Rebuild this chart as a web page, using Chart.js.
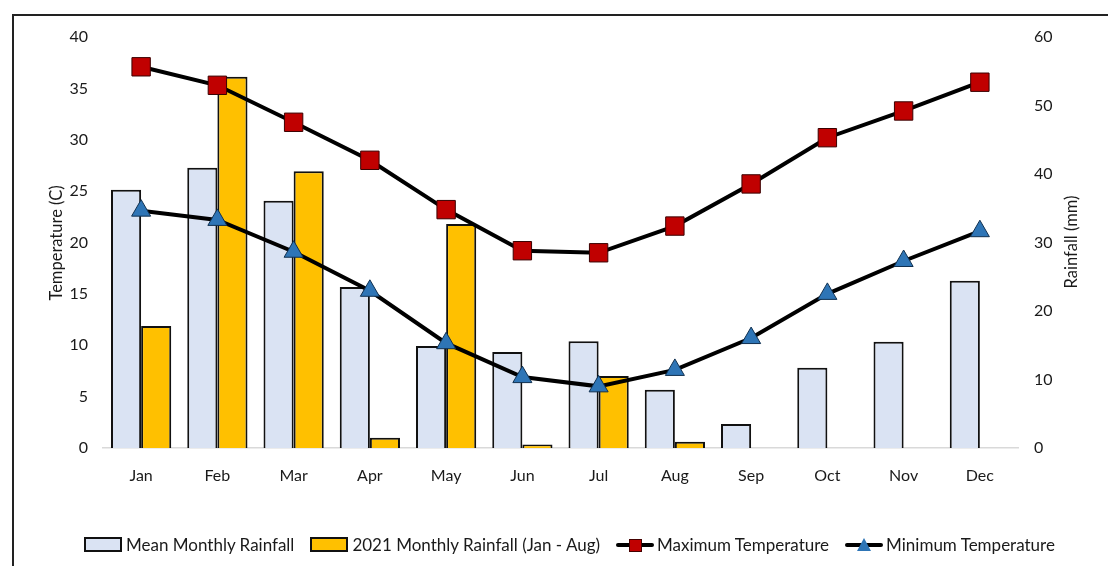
<!DOCTYPE html>
<html>
<head>
<meta charset="utf-8">
<script src="https://cdn.jsdelivr.net/npm/chart.js@4"></script>
<style>
  html, body { margin: 0; padding: 0; background: #fff; overflow: hidden; }
  body { width: 1108px; height: 566px; position: relative; font-family: Lato, "Open Sans", sans-serif; }
  #frame { position: absolute; left: 12px; top: 14px; width: 1200px; height: 700px; border: 2px solid #222; box-sizing: border-box; }
  #wrap { position: absolute; left: 0; top: 0; width: 1108px; height: 566px; }
  #legend { position: absolute; left: 84px; top: 534px; display: flex; align-items: center; font-size: 17px; color: #1a1a1a; white-space: nowrap; }
  .item { display: flex; align-items: center; margin-right: 16px; }
  .box { width: 34px; height: 11px; border: 2px solid #111; margin-right: 4px; }
  .sw { position: relative; width: 38px; height: 20px; margin-right: 3px; }
  .sw .ln { position: absolute; left: 0; right: 0; top: 8px; height: 4px; background: #000; border-radius: 2px; }
  .sw .sq { position: absolute; left: 13px; top: 4px; width: 11px; height: 11px; background: #c00000; border: 1px solid #400; }
  .sw .tri { position: absolute; left: 12px; top: 3px; width: 0; height: 0; border-left: 7px solid transparent; border-right: 7px solid transparent; border-bottom: 13px solid #2e75b6; }
</style>
</head>
<body>
<div id="frame"></div>
<div id="wrap"><canvas id="c" width="1108" height="566"></canvas></div>
<div id="legend">
  <div class="item"><div class="box" style="background:#dae3f3"></div>Mean Monthly Rainfall</div>
  <div class="item"><div class="box" style="background:#ffc000"></div>2021 Monthly Rainfall (Jan - Aug)</div>
  <div class="item"><div class="sw"><div class="ln"></div><div class="sq"></div></div>Maximum Temperature</div>
  <div class="item"><div class="sw"><div class="ln"></div><div class="tri"></div></div>Minimum Temperature</div>
</div>
<script>
const months = ['Jan', 'Feb', 'Mar', 'Apr', 'May', 'Jun', 'Jul', 'Aug', 'Sep', 'Oct', 'Nov', 'Dec'];
const meanRain = [37.7, 40.9, 36.1, 23.5, 14.9, 14.0, 15.6, 8.5, 3.5, 11.7, 15.5, 24.4];
const rain2021 = [17.8, 54.2, 40.4, 1.5, 32.7, 0.5, 10.5, 0.9, null, null, null, null];
const maxTemp = [37.1, 35.3, 31.7, 28.0, 23.2, 19.2, 19.0, 21.6, 25.7, 30.2, 32.8, 35.6];
const minTemp = [23.1, 22.2, 19.1, 15.3, 10.2, 6.9, 6.0, 7.6, 10.7, 15.0, 18.2, 21.1];

const FONT = 'Lato, "Open Sans", sans-serif';
const TXT = '#1a1a1a';

// axis titles, both read bottom to top
const axisTitles = {
  id: 'axisTitles',
  afterDraw(chart) {
    const ctx = chart.ctx;
    ctx.save();
    ctx.font = '16.5px ' + FONT;
    ctx.fillStyle = TXT;
    ctx.textAlign = 'center';
    ctx.textBaseline = 'middle';
    [[57, 243, 'Temperature (C)'], [1072, 242, 'Rainfall (mm)']].forEach(([x, y, t]) => {
      ctx.save();
      ctx.translate(x, y);
      ctx.rotate(-Math.PI / 2);
      ctx.fillText(t, 0, 0);
      ctx.restore();
    });
    ctx.restore();
  }
};

new Chart(document.getElementById('c'), {
  type: 'bar',
  data: {
    labels: months,
    datasets: [
      {
        type: 'line', label: 'Maximum Temperature', data: maxTemp, yAxisID: 'y', order: 0,
        borderColor: '#000', borderWidth: 4, tension: 0,
        pointStyle: 'rect', pointRadius: 13, pointBackgroundColor: '#c00000', pointBorderColor: '#3a0000', pointBorderWidth: 1
      },
      {
        type: 'line', label: 'Minimum Temperature', data: minTemp, yAxisID: 'y', order: 0,
        borderColor: '#000', borderWidth: 4, tension: 0,
        pointStyle: 'triangle', pointRadius: 11, pointBackgroundColor: '#2e75b6', pointBorderColor: '#10304f', pointBorderWidth: 1
      },
      {
        label: 'Mean Monthly Rainfall', data: meanRain, yAxisID: 'y2', order: 1,
        backgroundColor: '#dae3f3', borderColor: '#111', borderWidth: 2,
        categoryPercentage: 0.79, barPercentage: 1
      },
      {
        label: '2021 Monthly Rainfall (Jan - Aug)', data: rain2021, yAxisID: 'y2', order: 1,
        backgroundColor: '#ffc000', borderColor: '#111', borderWidth: 2,
        categoryPercentage: 0.79, barPercentage: 1
      }
    ]
  },
  options: {
    responsive: false,
    animation: false,
    layout: { padding: { left: 0, right: 0, top: 37, bottom: 78 } },
    plugins: { legend: { display: false }, tooltip: { enabled: false } },
    scales: {
      x: {
        grid: { display: false },
        border: { display: true, color: '#d9d9d9', width: 1.5 },
        ticks: { padding: 10, color: TXT, font: { family: FONT, size: 16 } },
        afterFit(s) { s.height = 40; }
      },
      y: {
        position: 'left', min: 0, max: 40,
        grid: { display: false, drawTicks: false },
        border: { display: false },
        ticks: { stepSize: 5, padding: 15, color: TXT, font: { family: FONT, size: 16 } },
        afterFit(s) { s.width = 103; }
      },
      y2: {
        position: 'right', min: 0, max: 60,
        grid: { display: false, drawTicks: false },
        border: { display: false },
        ticks: { stepSize: 10, padding: 16, color: TXT, font: { family: FONT, size: 16 } },
        afterFit(s) { s.width = 90; }
      }
    }
  },
  plugins: [axisTitles]
});
</script>
</body>
</html>
